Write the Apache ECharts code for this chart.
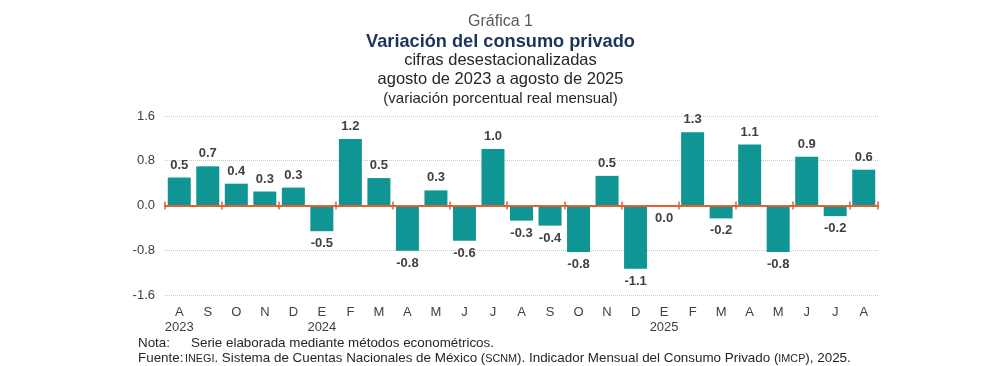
<!DOCTYPE html>
<html><head><meta charset="utf-8">
<script src="https://cdn.jsdelivr.net/npm/echarts@6/dist/echarts.min.js"></script>
<style>html,body{margin:0;padding:0;background:#fff}#c{width:1001px;height:366px}</style>
</head><body><div id="c"></div>
<script>
const months = ['A','S','O','N','D','E','F','M','A','M','J','J','A','S','O','N','D','E','F','M','A','M','J','J','A'];
const years = ['2023','','','','','2024','','','','','','','','','','','','2025','','','','','','',''];
const values = [0.50,0.70,0.39,0.25,0.32,-0.46,1.19,0.49,-0.81,0.27,-0.63,1.01,-0.27,-0.36,-0.83,0.53,-1.13,0.0,1.31,-0.23,1.09,-0.83,0.87,-0.19,0.64];
const yTicks = [-1.6,-0.8,0,0.8,1.6];

const cats = months.map((m,i)=> years[i] ? m+'\n'+years[i] : m);
const font = 'Liberation Sans, Arial, sans-serif';
const gridPos = {left:165,width:713,top:116,height:179};
const orange = '#E2622D';
const chart = echarts.init(document.getElementById('c'));
chart.setOption({
  animation:false,
  textStyle:{fontFamily:font},
  title:[
    {text:'Gráfica 1',left:'center',top:9,textStyle:{fontSize:16,fontWeight:'normal',color:'#595959',fontFamily:font}},
    {text:'Variación del consumo privado',left:'center',top:28,textStyle:{fontSize:18.2,fontWeight:'bold',color:'#1B355A',fontFamily:font}},
    {text:'cifras desestacionalizadas',left:'center',top:47,textStyle:{fontSize:16.5,fontWeight:'normal',color:'#262626',fontFamily:font}},
    {text:'agosto de 2023 a agosto de 2025',left:'center',top:66,textStyle:{fontSize:16.5,fontWeight:'normal',color:'#262626',fontFamily:font}},
    {text:'(variación porcentual real mensual)',left:'center',top:86,textStyle:{fontSize:15,fontWeight:'normal',color:'#262626',fontFamily:font}}
  ],
  grid:[Object.assign({},gridPos),Object.assign({},gridPos)],
  xAxis:[
    {type:'category',gridIndex:0,data:cats,position:'bottom',axisLine:{onZero:false,show:false},axisTick:{show:false},
     axisLabel:{color:'#404040',fontSize:13,lineHeight:15,margin:10,interval:0}},
    {type:'category',gridIndex:0,data:cats,position:'bottom',z:5,axisLine:{onZero:true,lineStyle:{color:orange,width:2}},
     axisTick:{show:true,inside:true,length:4,lineStyle:{color:orange,width:1.5}},axisLabel:{show:false}},
    {type:'category',gridIndex:1,data:cats,position:'bottom',z:5,axisLine:{onZero:true,lineStyle:{color:orange,width:2}},
     axisTick:{show:true,inside:false,length:4,lineStyle:{color:orange,width:1.5}},axisLabel:{show:false}}
  ],
  yAxis:[
    {type:'value',gridIndex:0,min:-1.6,max:1.6,interval:0.8,
     axisLabel:{color:'#404040',fontSize:13,margin:10,formatter:v=>v.toFixed(1)},
     splitLine:{lineStyle:{color:'#C8C8C8',type:'dotted',width:1}},axisLine:{show:false},axisTick:{show:false}},
    {type:'value',gridIndex:1,min:-1.6,max:1.6,interval:0.8,show:true,
     axisLabel:{show:false},splitLine:{show:false},axisLine:{show:false},axisTick:{show:false}}
  ],
  series:[{type:'bar',xAxisIndex:0,yAxisIndex:0,barWidth:23,z:2,
    itemStyle:{color:'#0E9594'},
    data:values.map(v=>({value:v,label:{position:v>0?'top':'bottom'}})),
    label:{show:true,fontSize:13,fontWeight:'bold',color:'#404040',distance:6,fontFamily:font,formatter:p=>p.value.toFixed(1)}
  }],
  graphic:[
    {type:'text',left:138,top:337,style:{text:'Nota:',fontSize:13.4,fill:'#262626',fontFamily:font}},
    {type:'text',left:191,top:337,style:{text:'Serie elaborada mediante métodos econométricos.',fontSize:13.4,fill:'#262626',fontFamily:font}},
    {type:'text',left:138,top:352,style:{text:'Fuente:',fontSize:13.4,fill:'#262626',fontFamily:font}},
    {type:'text',left:185,top:352,style:{
      text:'{n|}{s|INEGI}{n|. Sistema de Cuentas Nacionales de México (}{s|SCNM}{n|). Indicador Mensual del Consumo Privado (}{s|IMCP}{n|), 2025.}',
      fontSize:13.4,fill:'#262626',fontFamily:font,
      rich:{
        n:{fontSize:13.4,lineHeight:15,verticalAlign:'bottom',fill:'#262626',fontFamily:font},
        s:{fontSize:10.8,lineHeight:13,verticalAlign:'bottom',fill:'#262626',fontFamily:font}}}}
  ]
});
</script></body></html>
